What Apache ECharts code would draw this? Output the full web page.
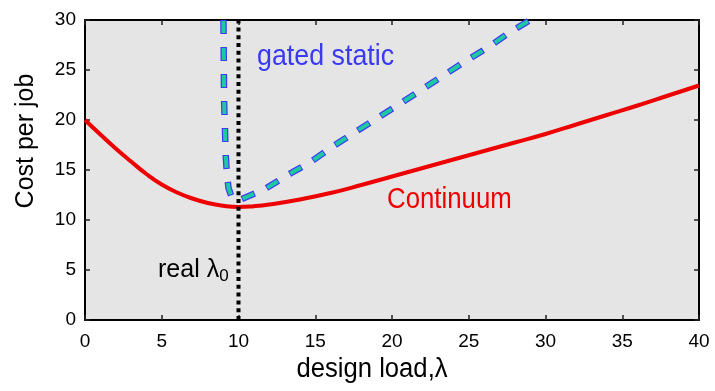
<!DOCTYPE html>
<html>
<head>
<meta charset="utf-8">
<script src="https://cdn.jsdelivr.net/npm/echarts@6/dist/echarts.min.js"></script>
<style>
html,body{margin:0;padding:0;background:#fff;}
#chart{width:715px;height:391px;}
</style>
</head>
<body>
<div id="chart"></div>
<script>
// Continuum cost curve (design load λ, cost per job)
const continuumX = [0, 1, 2, 3, 4, 5, 6, 7, 8, 9, 10, 11, 12, 14, 16, 18, 20, 22, 24, 26, 28, 30, 32, 34, 36, 38, 40];
const continuumY = [20.0, 18.55, 17.15, 15.85, 14.6, 13.55, 12.75, 12.15, 11.7, 11.42, 11.3, 11.38, 11.55, 12.05, 12.7, 13.5, 14.35, 15.2, 16.05, 16.9, 17.75, 18.6, 19.55, 20.5, 21.45, 22.45, 23.45];
// Gated static cost curve
const gatedX = [9.02, 9.06, 9.12, 9.17, 9.25, 9.35, 9.55, 9.8, 10.2, 10.6, 11.7, 13.2, 14.7, 16.1, 17.5, 20.4, 21.9, 23.3, 24.7, 26.2, 27.6, 29.0];
const gatedY = [30, 22, 19, 16.4, 14.5, 13.2, 12.3, 12.0, 12.1, 12.35, 13.07, 14.5, 15.8, 17.3, 18.7, 21.5, 23.0, 24.4, 25.8, 27.2, 28.7, 30];
// real λ0 marker
const realLambda0 = 10;
const xTicks = [0, 5, 10, 15, 20, 25, 30, 35, 40];
const yTicks = [0, 5, 10, 15, 20, 25, 30];

const FONT = '"Liberation Sans", Arial, sans-serif';
const zip = (xs, ys) => xs.map((x, i) => [x, ys[i]]);

const chart = echarts.init(document.getElementById('chart'));
const axisCommon = {
  type: 'value',
  axisLine: { show: true, onZero: false, lineStyle: { color: '#000', width: 2 } },
  axisTick: { show: true, inside: true, length: 5, lineStyle: { color: '#222', width: 1.5 } },
  splitLine: { show: false }
};
chart.setOption({
  animation: false,
  backgroundColor: '#fff',
  grid: { left: 85, top: 20, right: 16, bottom: 71, show: true, backgroundColor: '#e5e5e5', borderWidth: 0 },
  xAxis: [
    Object.assign({}, axisCommon, {
      min: xTicks[0], max: xTicks[xTicks.length - 1], interval: 5, position: 'bottom',
      axisLabel: { color: '#000', fontSize: 19, fontFamily: FONT, margin: 12 }
    }),
    Object.assign({}, axisCommon, {
      min: xTicks[0], max: xTicks[xTicks.length - 1], interval: 5, position: 'top',
      axisLabel: { show: false }
    })
  ],
  yAxis: [
    Object.assign({}, axisCommon, {
      min: yTicks[0], max: yTicks[yTicks.length - 1], interval: 5, position: 'left',
      axisLabel: { color: '#000', fontSize: 19, fontFamily: FONT, margin: 9 }
    }),
    Object.assign({}, axisCommon, {
      min: yTicks[0], max: yTicks[yTicks.length - 1], interval: 5, position: 'right',
      axisLabel: { show: false }
    })
  ],
  series: [
    {
      type: 'line', data: zip(continuumX, continuumY), smooth: 0.5, showSymbol: false,
      lineStyle: { color: '#ee0000', width: 4 }, z: 2
    },
    {
      type: 'line', data: [[realLambda0, yTicks[0]], [realLambda0, yTicks[yTicks.length - 1]]], showSymbol: false,
      lineStyle: { color: '#000', width: 4, type: [4, 3.8], cap: 'butt' }, z: 3
    },
    {
      type: 'line', data: zip(gatedX, gatedY), showSymbol: false, clip: true,
      lineStyle: { color: '#3d3df5', width: 6.5, type: [14, 13], cap: 'butt', join: 'miter' }, z: 4
    },
    {
      type: 'line', data: zip(gatedX, gatedY), showSymbol: false, clip: true,
      lineStyle: { color: '#1ec9a2', width: 4, type: [12, 15], dashOffset: -1, cap: 'butt', join: 'miter' }, z: 5
    }
  ],
  graphic: [
    { type: 'text', x: 257, y: 57, z: 10, scaleX: 0.925,
      style: { text: 'gated static', fill: '#3a3af2', font: '29px ' + FONT, textAlign: 'left', textVerticalAlign: 'middle' } },
    { type: 'text', x: 387, y: 200, z: 10, scaleX: 0.89,
      style: { text: 'Continuum', fill: '#ee0000', font: '29px ' + FONT, textAlign: 'left', textVerticalAlign: 'middle' } },
    { type: 'text', x: 158, y: 270, z: 10,
      style: { text: 'real λ{sub|0}', fill: '#000', font: '25px ' + FONT, textAlign: 'left', textVerticalAlign: 'middle',
        rich: { sub: { fontSize: 17, fontFamily: FONT, fill: '#000', padding: [12, 0, 0, 0] } } } },
    { type: 'text', x: 372, y: 370, z: 10, scaleX: 0.95,
      style: { text: 'design load,λ', fill: '#000', font: '27px ' + FONT, textAlign: 'center', textVerticalAlign: 'middle' } },
    { type: 'text', x: 26, y: 141, z: 10, rotation: Math.PI / 2,
      style: { text: 'Cost per job', fill: '#000', font: '25px ' + FONT, textAlign: 'center', textVerticalAlign: 'middle' } }
  ]
});
</script>
</body>
</html>
